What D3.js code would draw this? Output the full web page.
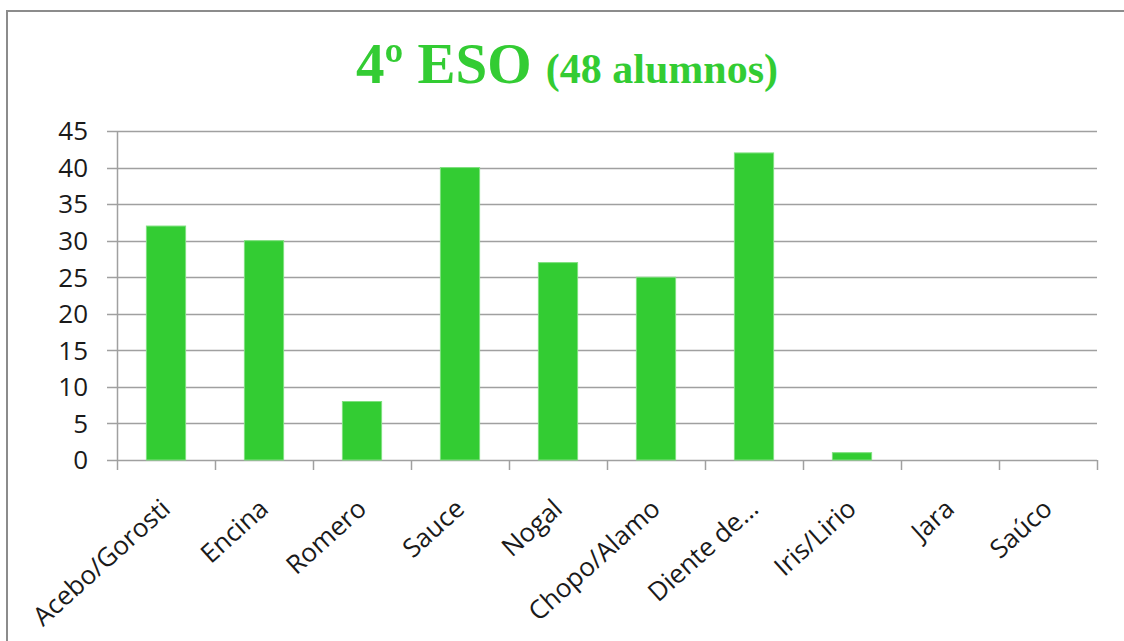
<!DOCTYPE html>
<html>
<head>
<meta charset="utf-8">
<script src="https://cdn.jsdelivr.net/npm/d3@7"></script>
<style>
  html, body { margin: 0; padding: 0; background: #fff; }
  svg { display: block; }
</style>
</head>
<body>
<svg id="chart" width="1124" height="641"></svg>
<script>
// Especies elegidas por el alumnado de 4º ESO
const categories = ["Acebo/Gorosti", "Encina", "Romero", "Sauce", "Nogal", "Chopo/Alamo", "Diente de…", "Iris/Lirio", "Jara", "Saúco"];
const values = [32, 30, 8, 40, 27, 25, 42, 1, 0, 0];
const yTicks = [0, 5, 10, 15, 20, 25, 30, 35, 40, 45];

const svg = d3.select("#chart");
const W = 1124, H = 641;
const plot = { left: 117, right: 1097, top: 131, bottom: 460 };

// Marco exterior del gráfico
svg.append("rect")
  .attr("x", 7).attr("y", 11)
  .attr("width", W + 20).attr("height", H + 20)
  .attr("fill", "#fff")
  .attr("stroke", "#8c8c8c")
  .attr("stroke-width", 2);

const x = d3.scaleBand()
  .domain(categories)
  .range([plot.left, plot.right])
  .paddingInner(0.6)
  .paddingOuter(0.3);

const xTickScale = d3.scaleLinear()
  .domain([0, categories.length])
  .range([plot.left, plot.right]);

const y = d3.scaleLinear()
  .domain([0, 45])
  .range([plot.bottom, plot.top]);

const font = "'Open Sans', 'DejaVu Sans', sans-serif";

// Líneas de división horizontales
svg.append("g")
  .selectAll("line")
  .data(yTicks)
  .join("line")
  .attr("x1", plot.left - 10)
  .attr("x2", plot.right)
  .attr("y1", d => Math.round(y(d)) + 0.5)
  .attr("y2", d => Math.round(y(d)) + 0.5)
  .attr("stroke", "#a0a0a0")
  .attr("stroke-width", 1.5);

// Eje vertical
svg.append("line")
  .attr("x1", plot.left + 0.5).attr("x2", plot.left + 0.5)
  .attr("y1", plot.top).attr("y2", plot.bottom)
  .attr("stroke", "#a0a0a0").attr("stroke-width", 1.5);

// Etiquetas del eje Y
svg.append("g")
  .selectAll("text")
  .data(yTicks)
  .join("text")
  .attr("x", 88)
  .attr("y", d => y(d))
  .attr("dy", "0.36em")
  .attr("text-anchor", "end")
  .attr("font-family", font)
  .attr("font-size", 26)
  .attr("fill", "#1a1a1a")
  .text(d => d);

// Marcas del eje de categorías
svg.append("g")
  .selectAll("line")
  .data(d3.range(categories.length + 1))
  .join("line")
  .attr("x1", d => Math.round(xTickScale(d)) + 0.5)
  .attr("x2", d => Math.round(xTickScale(d)) + 0.5)
  .attr("y1", plot.bottom)
  .attr("y2", plot.bottom + 10)
  .attr("stroke", "#a0a0a0").attr("stroke-width", 1.5);

// Barras
svg.append("g")
  .selectAll("rect")
  .data(categories.map((c, i) => ({ c, v: values[i] })))
  .join("rect")
  .attr("x", d => x(d.c))
  .attr("y", d => y(d.v))
  .attr("width", x.bandwidth())
  .attr("height", d => plot.bottom - y(d.v))
  .attr("fill", "#33cc33")
  .attr("stroke", "#7fe07f")
  .attr("stroke-width", d => d.v > 0 ? 1 : 0);

// Etiquetas de categorías, giradas
svg.append("g")
  .selectAll("text")
  .data(categories)
  .join("text")
  .attr("transform", d => `translate(${x(d) + x.bandwidth() / 2 + 6},${plot.bottom + 51}) rotate(-42)`)
  .attr("text-anchor", "end")
  .attr("font-family", font)
  .attr("font-size", 26)
  .attr("fill", "#1a1a1a")
  .text(d => d);

// Título
const title = svg.append("text")
  .attr("x", 567)
  .attr("y", 83)
  .attr("text-anchor", "middle")
  .attr("font-family", "'Liberation Serif', 'Times New Roman', serif")
  .attr("font-weight", "bold")
  .attr("fill", "#33cc33");
title.append("tspan").attr("font-size", 57).text("4º ESO ");
title.append("tspan").attr("font-size", 42).text("(48 alumnos)");
</script>
</body>
</html>
